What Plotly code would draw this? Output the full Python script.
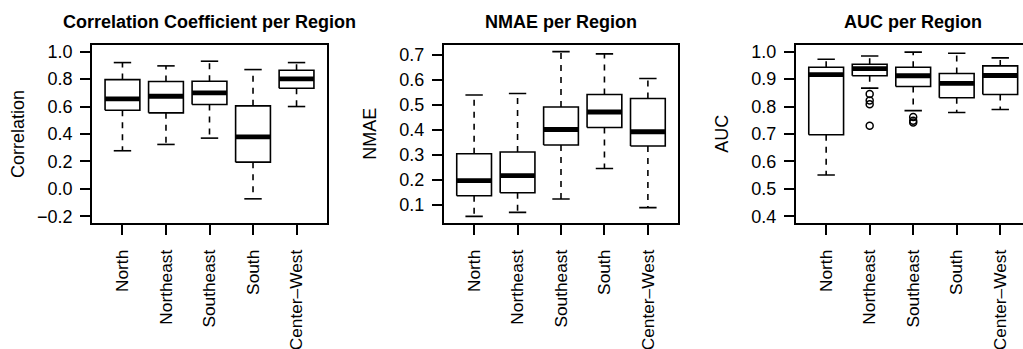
import plotly.graph_objects as go

# Regions on the x axis
regions = ["North", "Northeast", "Southeast", "South", "Center–West"]

# Correlation coefficient: box-plot summary per region
corr_lower = [0.278, 0.324, 0.370, -0.072, 0.600]
corr_q1 = [0.573, 0.554, 0.615, 0.195, 0.733]
corr_med = [0.656, 0.675, 0.699, 0.379, 0.801]
corr_q3 = [0.796, 0.782, 0.784, 0.605, 0.864]
corr_upper = [0.920, 0.896, 0.930, 0.869, 0.920]
corr_out = [[], [], [], [], []]

# NMAE: box-plot summary per region
nmae_lower = [0.053, 0.069, 0.123, 0.245, 0.088]
nmae_q1 = [0.136, 0.148, 0.339, 0.409, 0.335]
nmae_med = [0.196, 0.216, 0.401, 0.471, 0.392]
nmae_q3 = [0.304, 0.311, 0.491, 0.541, 0.525]
nmae_upper = [0.539, 0.545, 0.713, 0.704, 0.605]
nmae_out = [[], [], [], [], []]

# AUC: box-plot summary per region
auc_lower = [0.551, 0.867, 0.785, 0.778, 0.789]
auc_q1 = [0.697, 0.912, 0.873, 0.832, 0.844]
auc_med = [0.916, 0.938, 0.912, 0.884, 0.913]
auc_q3 = [0.943, 0.954, 0.943, 0.920, 0.948]
auc_upper = [0.972, 0.984, 0.998, 0.994, 0.977]
auc_out = [[], [0.846, 0.822, 0.808, 0.730], [0.762, 0.748, 0.742], [], []]

W, H = 1023, 349
FONT = "Liberation Sans, Arial, Helvetica, sans-serif"
FS = 18
FS_X = 17.3
LW = 1.6
BOX_HALF = 0.4
CAP_HALF = 0.2

panels = [
    dict(title="Correlation Coefficient per Region", ylab="Correlation",
         stats=(corr_lower, corr_q1, corr_med, corr_q3, corr_upper, corr_out),
         yrange=[-0.248, 1.048], ticks=[-0.2, 0.0, 0.2, 0.4, 0.6, 0.8, 1.0],
         left=92, right=327, xmax=5.7),
    dict(title="NMAE per Region", ylab="NMAE",
         stats=(nmae_lower, nmae_q1, nmae_med, nmae_q3, nmae_upper, nmae_out),
         yrange=[0.0266, 0.7394], ticks=[0.1, 0.2, 0.3, 0.4, 0.5, 0.6, 0.7],
         left=443.7, right=678.3, xmax=5.7),
    dict(title="AUC per Region", ylab="AUC",
         stats=(auc_lower, auc_q1, auc_med, auc_q3, auc_upper, auc_out),
         yrange=[0.376, 1.024], ticks=[0.4, 0.5, 0.6, 0.7, 0.8, 0.9, 1.0],
         left=795.7, right=1023, xmax=5.523),
]

top_px, bot_px = 45, 223
ydom = [1 - bot_px / H, 1 - top_px / H]

fig = go.Figure()
annotations = []

for k, p in enumerate(panels, start=1):
    lo, q1, med, q3, hi, outs = p["stats"]
    xa = "x" if k == 1 else f"x{k}"
    ya = "y" if k == 1 else f"y{k}"

    bx, by, mx, my, wx, wy, cx, cy, ox, oy = ([] for _ in range(10))
    for i in range(len(regions)):
        c = i + 1
        bx += [c - BOX_HALF, c + BOX_HALF, c + BOX_HALF, c - BOX_HALF, c - BOX_HALF, None]
        by += [q1[i], q1[i], q3[i], q3[i], q1[i], None]
        mx += [c - BOX_HALF, c + BOX_HALF, None]
        my += [med[i], med[i], None]
        wx += [c, c, None, c, c, None]
        wy += [q3[i], hi[i], None, q1[i], lo[i], None]
        cx += [c - CAP_HALF, c + CAP_HALF, None, c - CAP_HALF, c + CAP_HALF, None]
        cy += [hi[i], hi[i], None, lo[i], lo[i], None]
        for v in outs[i]:
            ox.append(c)
            oy.append(v)

    common = dict(xaxis=xa, yaxis=ya, showlegend=False, hoverinfo="skip")
    fig.add_trace(go.Scatter(x=wx, y=wy, mode="lines",
                             line=dict(color="black", width=LW, dash="6px,6px"), **common))
    fig.add_trace(go.Scatter(x=cx, y=cy, mode="lines",
                             line=dict(color="black", width=LW), **common))
    fig.add_trace(go.Scatter(x=bx, y=by, mode="lines", fill="toself", fillcolor="white",
                             line=dict(color="black", width=LW), **common))
    fig.add_trace(go.Scatter(x=mx, y=my, mode="lines",
                             line=dict(color="black", width=4.8), **common))
    if ox:
        fig.add_trace(go.Scatter(x=ox, y=oy, mode="markers",
                                 marker=dict(symbol="circle-open", size=7, color="black",
                                             line=dict(width=1.5)), **common))

    xdom = [p["left"] / W, p["right"] / W]
    xkey = "xaxis" if k == 1 else f"xaxis{k}"
    ykey = "yaxis" if k == 1 else f"yaxis{k}"
    fig.update_layout(**{
        xkey: dict(domain=xdom, range=[0.3, p["xmax"]], anchor=ya, automargin=False,
                   tickmode="array", tickvals=list(range(1, len(regions) + 1)),
                   ticktext=regions, tickangle=-90, ticks="outside", ticklen=10,
                   tickwidth=LW, tickcolor="black", showline=True, mirror=True,
                   linecolor="black", linewidth=LW, showgrid=False, zeroline=False,
                   tickfont=dict(family=FONT, size=FS_X, color="black"),
                   ticklabelstandoff=8),
        ykey: dict(domain=ydom, range=p["yrange"], anchor=xa, automargin=False,
                   tickmode="array", tickvals=p["ticks"],
                   ticktext=[f"{t:.1f}".replace("-", "−") for t in p["ticks"]],
                   ticks="outside", ticklen=10, tickwidth=LW, tickcolor="black",
                   showline=True, mirror=(k != 3), linecolor="black", linewidth=LW,
                   showgrid=False, zeroline=False,
                   tickfont=dict(family=FONT, size=FS, color="black"),
                   ticklabelstandoff=4),
    })

    center = (p["left"] + (p["left"] + 235)) / 2
    annotations.append(dict(text=f"<b>{p['title']}</b>", x=center / W, y=1 - 22 / H,
                            xref="paper", yref="paper", xanchor="center", yanchor="middle",
                            showarrow=False, font=dict(family=FONT, size=FS, color="black")))
    annotations.append(dict(text=p["ylab"], x=(p["left"] - 74) / W, y=1 - 134 / H,
                            xref="paper", yref="paper", xanchor="center", yanchor="middle",
                            textangle=-90, showarrow=False,
                            font=dict(family=FONT, size=FS, color="black")))

fig.update_layout(width=W, height=H, margin=dict(l=0, r=0, t=0, b=0),
                  paper_bgcolor="white", plot_bgcolor="white",
                  annotations=annotations)

fig.write_html("out.html")
